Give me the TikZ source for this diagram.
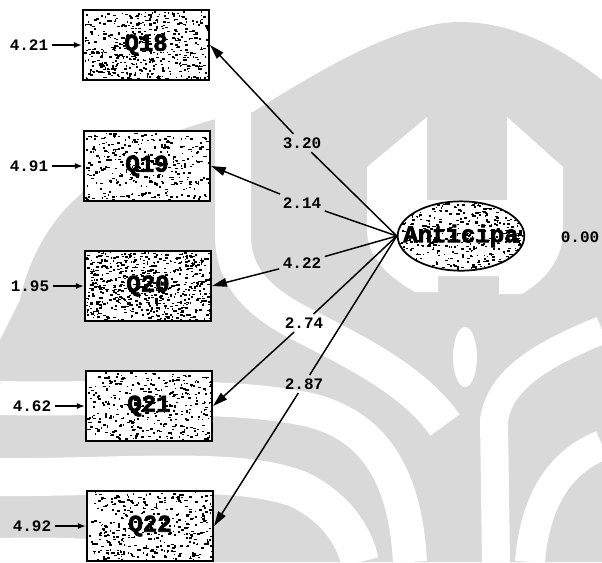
\documentclass[tikz,border=0pt]{standalone}
\usepackage{fontspec}
\setmonofont{Liberation Mono}
\newfontfamily\heavymono[FakeBold=3]{Liberation Mono Bold}
\usetikzlibrary{arrows.meta,shapes.geometric,calc}
\definecolor{wm}{gray}{0.85}
\pgfdeclarelayer{wmark}
\pgfdeclarelayer{fillers}
\pgfsetlayers{wmark,fillers,main}

% grainy fill around a node centre: node name, number of grains, half width, half height
\newcommand{\graininess}[4]{%
  \begin{scope}[shift={(#1.center)}]
    \foreach \k in {1,...,#2}{%
      \pgfmathsetmacro{\gx}{-#3+2*#3*rnd}%
      \pgfmathsetmacro{\gy}{-#4+2*#4*rnd}%
      \pgfmathsetmacro{\gw}{1.0+2.4*rnd}%
      \pgfmathsetmacro{\gh}{1.0+1.2*rnd}%
      \fill[black] (\gx,\gy) rectangle ++(\gw,\gh);
    }
  \end{scope}}

\begin{document}
\begin{tikzpicture}[x=0.75pt,y=-0.75pt,
  ind/.style={draw=black,line width=1.6pt,minimum width=94.5pt,minimum height=52.5pt,
    inner sep=0pt,font=\heavymono\fontsize{18}{18}\selectfont},
  lat/.style={ellipse,draw=black,line width=1.3pt,minimum width=95pt,minimum height=52pt,
    inner sep=0pt},
  lattext/.style={inner sep=0pt,font=\heavymono\fontsize{18}{18}\selectfont},
  lbl/.style={inner sep=2.5pt,font=\ttfamily\bfseries\fontsize{12}{12}\selectfont},
  ldg/.style={line width=1.1pt},
  ldgarrow/.style={line width=1.1pt,-{Triangle[length=11pt,width=6.5pt]}},
  err/.style={line width=1.1pt,-{Latex[length=6pt,width=4.5pt]}},
  gap/.style={draw=white,line cap=butt}]
\useasboundingbox (0,0) rectangle (602,562);
\pgfmathsetseed{7}

% ---------- faint emblem in the background ----------
\begin{pgfonlayer}{wmark}
  % outer dome, filled down to the bottom edge
  \fill[wm] (0,340) -- (20,300) .. controls (28,260) and (50,220) .. (80,195)
    .. controls (120,150) and (190,120) .. (253,112)
    .. controls (320,70) and (400,22) .. (460,22)
    .. controls (520,22) and (570,55) .. (602,80) -- (602,562) -- (0,562) -- cycle;
  % inner horseshoe around the ellipse
  \fill[white] (367,167) -- (427,117) -- (427,200) -- (507,200) -- (507,117)
    -- (563,167) -- (563,230) .. controls (563,260) and (545,280) .. (522,294)
    -- (499,294) -- (499,276) -- (438,276) -- (438,292) -- (415,292)
    .. controls (385,275) and (367,255) .. (367,230) -- cycle;
  % drop in the central column
  \fill[white] (465,357) ellipse [x radius=9pt,y radius=22.5pt];
  % light bands between the leaves, left
  \draw[gap,line width=27pt] (233,105) -- (233,235)
    .. controls (233,270) and (250,295) .. (290,318)
    .. controls (340,345) and (410,375) .. (445,425);
  \draw[gap,line width=25.5pt] (0,398) .. controls (100,400) and (230,392) .. (310,410)
    .. controls (370,425) and (405,470) .. (410,562);
  \draw[gap,line width=28.5pt] (0,477) .. controls (120,478) and (240,465) .. (300,490)
    .. controls (340,510) and (355,540) .. (360,562);
  \fill[white] (0,538) .. controls (80,536) and (160,540) .. (215,562) -- (0,562) -- cycle;
  % light bands between the leaves, right
  \draw[gap,line width=21pt] (602,330) .. controls (540,355) and (500,380) .. (494,420)
    -- (496,562);
  \draw[gap,line width=22.5pt] (602,445) .. controls (560,462) and (535,500) .. (530,562);
\end{pgfonlayer}

% ---------- latent variable ----------
\node[lat] (anti) at (461,236) {};
\node[lattext] (antilabel) at (anti.center) {Anticipa};
\node[lbl] (v0) at (580,237) {0.00};

% ---------- indicators ----------
\node[ind] (q18) at (146,45)  {Q18};
\node[ind] (q19) at (147,166) {Q19};
\node[ind] (q20) at (148,286) {Q20};
\node[ind] (q21) at (149,406) {Q21};
\node[ind] (q22) at (150,526) {Q22};

% ---------- grainy interiors ----------
\begin{pgfonlayer}{fillers}
  \foreach \q/\n in {q18/480,q19/340,q20/650,q21/360,q22/380}{
    \begin{scope}
      \clip (\q.south west) rectangle (\q.north east);
      \fill[white] (\q.south west) rectangle (\q.north east);
      \graininess{\q}{\n}{62}{34}
    \end{scope}
  }
  \begin{scope}
    \clip (anti.center) ellipse [x radius=47pt,y radius=25.5pt];
    \fill[white] (anti.center) ellipse [x radius=47pt,y radius=25.5pt];
    \graininess{anti}{420}{62}{34}
  \end{scope}
\end{pgfonlayer}

% ---------- error variances ----------
\node[lbl] (e18) at (29,45)  {4.21};
\node[lbl] (e19) at (29,166) {4.91};
\node[lbl] (e20) at (30,286) {1.95};
\node[lbl] (e21) at (32,406) {4.62};
\node[lbl] (e22) at (32,526) {4.92};
\draw[err] (e18.east) -- (q18.west);
\draw[err] (e19.east) -- (q19.west);
\draw[err] (e20.east) -- (q20.west);
\draw[err] (e21.east) -- (q21.west);
\draw[err] (e22.east) -- (q22.west);

% ---------- loadings ----------
\node[lbl] (p18) at (302,143) {3.20};
\node[lbl] (p19) at (302,203) {2.14};
\node[lbl] (p20) at (302,263) {4.22};
\node[lbl] (p21) at (304,323) {2.74};
\node[lbl] (p22) at (304,384) {2.87};
\foreach \p/\q in {p18/q18,p19/q19,p20/q20,p21/q21,p22/q22}{
  \draw[ldg] (anti.west) -- (\p);
  \draw[ldgarrow] (\p) -- (\q.east);
}
\end{tikzpicture}
\end{document}
